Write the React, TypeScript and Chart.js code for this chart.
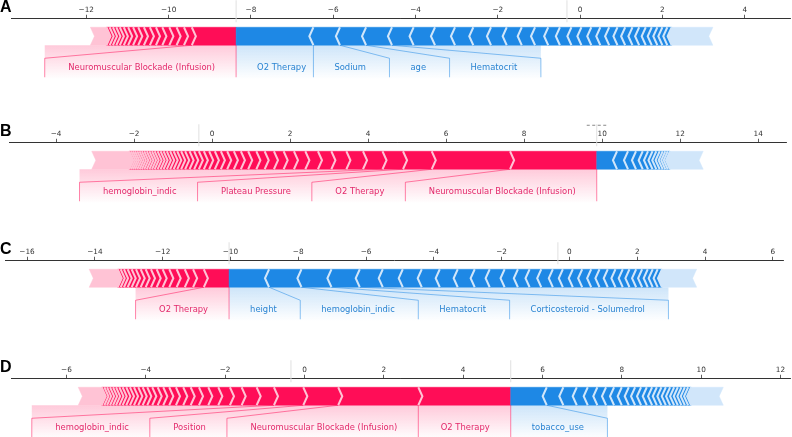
import React, { useEffect, useRef } from 'react';
import { Chart, registerables } from 'chart.js';

Chart.register(...registerables);

// ---------------- Panel A ----------------
const A_TICKS = [-12, -10, -8, -6, -4, -2, 0, 2, 4];
const A_RANGE = [-13.83, 5.1];
const A_OUT = -8.36;
const A_BASE = -0.32;
const A_POS = [1.077, 0.19, 0.18, 0.176, 0.17, 0.155, 0.148, 0.145, 0.138, 0.125, 0.12, 0.105, 0.097, 0.085, 0.082, 0.08, 0.078];
const A_POS_REST = 0.39;
const A_NEG = [1.879, 0.645, 0.635, 0.63, 0.525, 0.52, 0.486, 0.445, 0.43, 0.382, 0.365, 0.323, 0.32, 0.284, 0.28, 0.243, 0.24, 0.219, 0.215, 0.202, 0.187, 0.177, 0.163, 0.16, 0.146, 0.136, 0.122, 0.12, 0.107];
const A_NEG_REST = 1.0;
const A_POS_NAMES = ['Neuromuscular Blockade (Infusion)'];
const A_NEG_NAMES = ['O2 Therapy', 'Sodium', 'age', 'Hematocrit'];

// ---------------- Panel B ----------------
const B_TICKS = [-4, -2, 0, 2, 4, 6, 8, 10, 12, 14];
const B_RANGE = [-5.2, 14.73];
const B_OUT = 9.86;
const B_BASE = -0.34;
const B_POS = [2.223, 2.008, 0.736, 0.526, 0.5, 0.426, 0.385, 0.344, 0.323, 0.292, 0.264, 0.249, 0.238, 0.213, 0.21, 0.187, 0.179, 0.172, 0.162, 0.154, 0.146, 0.136, 0.128, 0.12, 0.118, 0.113, 0.103, 0.1, 0.092, 0.09, 0.085, 0.083, 0.077, 0.077, 0.075, 0.068, 0.067, 0.066, 0.065, 0.062, 0.059, 0.058, 0.056, 0.051, 0.05, 0.05];
const B_POS_REST = 0.96;
const B_NEG = [0.52, 0.282, 0.205, 0.172, 0.136, 0.115, 0.097, 0.087, 0.077, 0.067, 0.062, 0.059];
const B_NEG_REST = 0.85;
const B_POS_NAMES = ['Neuromuscular Blockade (Infusion)', 'O2 Therapy', 'Plateau Pressure', 'hemoglobin_indic'];
const B_NEG_NAMES: string[] = [];

// ---------------- Panel C ----------------
const C_TICKS = [-16, -14, -12, -10, -8, -6, -4, -2, 0, 2, 4, 6];
const C_RANGE = [-16.65, 6.3];
const C_OUT = -10.04;
const C_BASE = -0.34;
const C_POS = [0.746, 0.316, 0.245, 0.24, 0.218, 0.195, 0.177, 0.168, 0.156, 0.147, 0.139, 0.127, 0.118, 0.109, 0.097, 0.088];
const C_POS_REST = 0.84;
const C_NEG = [1.18, 0.956, 0.885, 0.835, 0.678, 0.59, 0.56, 0.531, 0.53, 0.501, 0.442, 0.44, 0.392, 0.345, 0.344, 0.342, 0.295, 0.294, 0.277, 0.265, 0.245, 0.244, 0.227, 0.215, 0.198, 0.197, 0.177, 0.165, 0.147, 0.146, 0.13];
const C_NEG_REST = 1.02;
const C_POS_NAMES = ['O2 Therapy'];
const C_NEG_NAMES = ['height', 'hemoglobin_indic', 'Hematocrit', 'Corticosteroid - Solumedrol'];

// ---------------- Panel D ----------------
const D_TICKS = [-6, -4, -2, 0, 2, 4, 6, 8, 10, 12];
const D_RANGE = [-7.38, 12.24];
const D_OUT = 5.2;
const D_BASE = -0.34;
const D_POS = [2.33, 2.02, 0.88, 0.74, 0.436, 0.378, 0.295, 0.294, 0.252, 0.235, 0.209, 0.187, 0.184, 0.169, 0.151, 0.141, 0.136, 0.126, 0.116, 0.111, 0.108, 0.101, 0.093, 0.092, 0.083, 0.082, 0.076, 0.076, 0.075, 0.068, 0.068];
const D_POS_REST = 0.59;
const D_NEG = [0.908, 0.419, 0.338, 0.277, 0.242, 0.219, 0.202, 0.194, 0.177, 0.159, 0.151, 0.144, 0.134, 0.119, 0.116, 0.111, 0.108, 0.101, 0.093, 0.091, 0.086, 0.083, 0.076];
const D_NEG_REST = 0.81;
const D_POS_NAMES = ['O2 Therapy', 'Neuromuscular Blockade (Infusion)', 'Position', 'hemoglobin_indic'];
const D_NEG_NAMES = ['tobacco_use'];

const LETTERS = ['A', 'B', 'C', 'D'];

// layout (pixel placement of each panel's axis line)
const LAYOUT = [
  { axisY: 18.3, left: 11, right: 790, outMark: false },
  { axisY: 142.3, left: 9.3, right: 786.7, outMark: true },
  { axisY: 260, left: 5, right: 783, outMark: false },
  { axisY: 378.3, left: 11.7, right: 790, outMark: false },
];

const PANELS = [
  { ticks: A_TICKS, range: A_RANGE, out: A_OUT, base: A_BASE, pos: A_POS, posRest: A_POS_REST, neg: A_NEG, negRest: A_NEG_REST, posNames: A_POS_NAMES, negNames: A_NEG_NAMES },
  { ticks: B_TICKS, range: B_RANGE, out: B_OUT, base: B_BASE, pos: B_POS, posRest: B_POS_REST, neg: B_NEG, negRest: B_NEG_REST, posNames: B_POS_NAMES, negNames: B_NEG_NAMES },
  { ticks: C_TICKS, range: C_RANGE, out: C_OUT, base: C_BASE, pos: C_POS, posRest: C_POS_REST, neg: C_NEG, negRest: C_NEG_REST, posNames: C_POS_NAMES, negNames: C_NEG_NAMES },
  { ticks: D_TICKS, range: D_RANGE, out: D_OUT, base: D_BASE, pos: D_POS, posRest: D_POS_REST, neg: D_NEG, negRest: D_NEG_REST, posNames: D_POS_NAMES, negNames: D_NEG_NAMES },
];

const RED = '#FF0D57';
const RED_LIGHT = '#FFC3D5';
const BLUE = '#1E88E5';
const BLUE_LIGHT = '#D1E6FA';
const RED_TEXT = '#E3286A';
const BLUE_TEXT = '#2A84D2';
const LABEL_FONT = '8.4px "DejaVu Sans", sans-serif';
const CANVAS_H = 100;

const fmtTick = (v: number) => (v < 0 ? '\u2212' + Math.abs(v) : String(v));

function makePlugin(p: any, lay: any, letter: string) {
  return {
    id: 'force' + letter,
    afterDraw(chart: any) {
      const ctx: CanvasRenderingContext2D = chart.ctx;
      const xs = chart.scales.x;
      const X = (v: number) => xs.getPixelForValue(v);
      const ay = chart.chartArea.top;
      const top = ay + 9;
      const bot = ay + 27;
      const mid = (top + bot) / 2;
      const ind = (xs.right - xs.left) / 190;

      const poly = (pts: number[][], fill: string) => {
        ctx.beginPath();
        pts.forEach(([x, y], i) => (i ? ctx.lineTo(x, y) : ctx.moveTo(x, y)));
        ctx.closePath();
        ctx.fillStyle = fill;
        ctx.fill();
        ctx.strokeStyle = fill;
        ctx.lineWidth = 0.5;
        ctx.stroke();
      };
      const line = (pts: number[][], stroke: string, lw: number) => {
        ctx.beginPath();
        pts.forEach(([x, y], i) => (i ? ctx.lineTo(x, y) : ctx.moveTo(x, y)));
        ctx.strokeStyle = stroke;
        ctx.lineWidth = lw;
        ctx.lineJoin = 'miter';
        ctx.stroke();
      };

      ctx.save();

      // faint base value and output value markers
      line([[X(p.base), ay - 18], [X(p.base), ay + 4]], '#E0E0E0', 1);
      line([[X(p.out), ay - 18], [X(p.out), ay + 4]], '#E0E0E0', 1);
      if (lay.outMark) {
        ctx.setLineDash([3, 2.5]);
        line([[X(p.out) - 10, ay - 17], [X(p.out) + 10, ay - 17]], '#888', 1);
        ctx.setLineDash([]);
      }

      // boundaries
      const posB = [p.out];
      p.pos.forEach((e: number) => posB.push(posB[posB.length - 1] - e));
      const posTail = posB[posB.length - 1] - p.posRest;
      const negB = [p.out];
      p.neg.forEach((e: number) => negB.push(negB[negB.length - 1] + e));
      const negTail = negB[negB.length - 1] + p.negRest;

      // label layout
      ctx.font = LABEL_FONT;
      const NEAR = 21, FAR = 23.5, PAD = 3;
      const texts: any[] = [];
      const lines: any[] = [];
      const shades: any[] = [];
      const layoutSide = (isPos: boolean) => {
        const bounds = isPos ? posB : negB;
        const names: string[] = isPos ? p.posNames : p.negNames;
        const sign = isPos ? -1 : 1;
        const lc = isPos ? 'rgba(255,13,87,0.5)' : 'rgba(30,136,229,0.5)';
        let start = X(p.out);
        names.forEach((name, i) => {
          const val = X(bounds[i + 1]);
          const tw = ctx.measureText(name).width;
          const tNear = start + sign * NEAR;
          const tFar = tNear + sign * tw;
          texts.push({ name, x: tNear, align: isPos ? 'right' : 'left', color: isPos ? RED_TEXT : BLUE_TEXT });
          if (sign * (tFar + sign * PAD) < sign * val) {
            lines.push({ pts: [[val, bot], [val, bot + 32]], c: lc });
            start = val;
          } else {
            const be = tFar + sign * FAR;
            lines.push({ pts: [[val, bot], [be, bot + 13], [be, bot + 32]], c: lc });
            start = be;
          }
        });
        if (names.length) shades.push({ a: Math.min(X(p.out), start), b: Math.max(X(p.out), start), rgb: isPos ? '255,13,87' : '30,136,229' });
      };
      layoutSide(true);
      layoutSide(false);

      // shading
      shades.forEach((s) => {
        const g = ctx.createLinearGradient(0, bot, 0, bot + 34);
        g.addColorStop(0, `rgba(${s.rgb},0.22)`);
        g.addColorStop(1, `rgba(${s.rgb},0)`);
        ctx.fillStyle = g;
        ctx.fillRect(s.a, bot, s.b - s.a, 34);
      });

      // positive bars (red)
      for (let i = 0; i < p.pos.length; i++) {
        const r = X(posB[i]);
        const l = X(posB[i + 1]);
        poly([[l, top], [r, top], [i > 0 ? r + ind : r, mid], [r, bot], [l, bot], [l + ind, mid]], RED);
      }
      {
        const r = X(posB[posB.length - 1]);
        const l = X(posTail);
        poly([[l, top], [r, top], [r + ind, mid], [r, bot], [l, bot], [l + ind, mid]], RED_LIGHT);
      }
      for (let i = 1; i < posB.length; i++) {
        const s = X(posB[i]);
        line([[s, top], [s + ind, mid], [s, bot]], RED_LIGHT, 2);
      }

      // negative bars (blue)
      for (let i = 0; i < p.neg.length; i++) {
        const l = X(negB[i]);
        const r = X(negB[i + 1]);
        poly([[l, top], [r, top], [r - ind, mid], [r, bot], [l, bot], [i > 0 ? l - ind : l, mid]], BLUE);
      }
      {
        const l = X(negB[negB.length - 1]);
        const r = X(negTail);
        poly([[l, top], [r, top], [r - ind, mid], [r, bot], [l, bot], [l - ind, mid]], BLUE_LIGHT);
      }
      for (let i = 1; i < negB.length; i++) {
        const s = X(negB[i]);
        line([[s, top], [s - ind, mid], [s, bot]], BLUE_LIGHT, 2);
      }

      // label lines
      line([[X(p.out), bot], [X(p.out), bot + 32]], 'rgba(255,13,87,0.5)', 1);
      lines.forEach((l) => line(l.pts, l.c, 1));

      // label texts
      ctx.font = LABEL_FONT;
      ctx.textBaseline = 'middle';
      texts.forEach((t) => {
        ctx.fillStyle = t.color;
        ctx.textAlign = t.align;
        ctx.fillText(t.name, t.x, bot + 23);
      });

      // panel letter
      ctx.font = 'bold 16px "Liberation Sans", Arial, sans-serif';
      ctx.textAlign = 'left';
      ctx.textBaseline = 'alphabetic';
      ctx.fillStyle = '#000';
      ctx.fillText(letter, 0, ay - 6);

      ctx.restore();
    },
  };
}

function ForcePanel({ index }: { index: number }) {
  const ref = useRef<HTMLCanvasElement>(null);
  const p = PANELS[index];
  const lay = LAYOUT[index];
  const letter = LETTERS[index];
  useEffect(() => {
    const canvas = ref.current as HTMLCanvasElement;
    const chart = new Chart(canvas, {
      type: 'scatter',
      data: { datasets: [] },
      options: {
        responsive: false,
        maintainAspectRatio: false,
        animation: false,
        layout: { padding: { top: 8, left: lay.left, right: 792 - lay.right, bottom: 0 } },
        plugins: { legend: { display: false }, tooltip: { enabled: false }, title: { display: false } },
        scales: {
          x: {
            type: 'linear',
            position: 'top',
            min: p.range[0],
            max: p.range[1],
            afterBuildTicks: (axis: any) => {
              axis.ticks = p.ticks.map((v: number) => ({ value: v }));
            },
            ticks: {
              callback: (v: any) => fmtTick(Number(v)),
              font: { family: '"DejaVu Sans", sans-serif', size: 7.3 },
              color: '#333',
              padding: 0,
              maxRotation: 0,
              autoSkip: false,
            },
            grid: { display: true, drawOnChartArea: false, drawTicks: true, tickLength: 3.5, color: '#333', tickColor: '#333', lineWidth: 0.8 },
            border: { display: true, color: '#333', width: 1 },
          },
          y: { display: false, min: 0, max: 1 },
        },
      } as any,
      plugins: [makePlugin(p, lay, letter)],
    });
    canvas.style.top = lay.axisY - chart.chartArea.top + 'px';
    return () => chart.destroy();
  }, []);
  return (
    <canvas
      ref={ref}
      width={792}
      height={CANVAS_H}
      style={{ position: 'absolute', left: 0, top: lay.axisY - 20, width: 792, height: CANVAS_H }}
    />
  );
}

export default function App() {
  useEffect(() => {
    document.body.style.margin = '0';
  }, []);
  return (
    <div style={{ position: 'relative', width: 792, height: 437, overflow: 'hidden', background: '#fff' }}>
      {PANELS.map((_, i) => (
        <ForcePanel key={i} index={i} />
      ))}
    </div>
  );
}
